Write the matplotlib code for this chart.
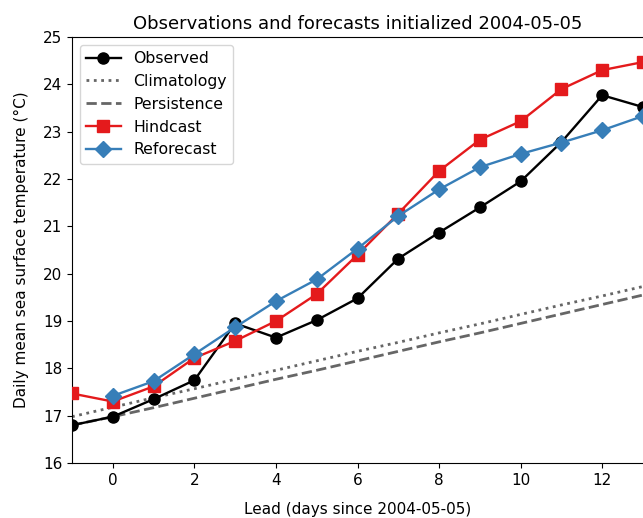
import matplotlib
matplotlib.use("Agg")
import matplotlib.pyplot as plt

lead = list(range(-1, 14))
observed = [16.80, 16.98, 17.35, 17.75, 18.95, 18.65, 19.02, 19.48, 20.32, 20.87, 21.40, 21.95, 22.78, 23.77, 23.52]
climatology = [16.98, 17.18, 17.38, 17.57, 17.77, 17.96, 18.16, 18.36, 18.55, 18.75, 18.94, 19.14, 19.34, 19.53, 19.73]
persistence = [16.80, 16.98, 17.17, 17.37, 17.57, 17.77, 17.96, 18.16, 18.36, 18.56, 18.75, 18.95, 19.15, 19.35, 19.55]
hindcast = [17.47, 17.30, 17.62, 18.22, 18.58, 19.00, 19.57, 20.40, 21.27, 22.17, 22.83, 23.22, 23.90, 24.30, 24.47]
reforecast_lead = list(range(0, 14))
reforecast = [17.42, 17.73, 18.30, 18.87, 19.42, 19.88, 20.53, 21.22, 21.78, 22.25, 22.53, 22.77, 23.03, 23.33]

fig = plt.figure(figsize=(6.43, 5.18), dpi=100)
ax = fig.add_axes([0.112, 0.106, 0.888, 0.8226])

ax.plot(lead, observed, color="black", marker="o", ms=8, lw=1.7, label="Observed", zorder=3)
ax.plot(lead, climatology, color="#666666", ls=":", lw=2, label="Climatology")
ax.plot(lead, persistence, color="#666666", ls="--", lw=2, label="Persistence")
ax.plot(lead, hindcast, color="#e41a1c", marker="s", ms=8, lw=1.7, label="Hindcast", zorder=4)
ax.plot(reforecast_lead, reforecast, color="#377eb8", marker="D", ms=8, lw=1.7, label="Reforecast", zorder=5)

ax.set_xlim(-1, 13)
ax.set_ylim(16, 25)
ax.set_xticks([0, 2, 4, 6, 8, 10, 12])
ax.set_yticks(range(16, 26))
ax.tick_params(labelsize=11)
ax.spines["right"].set_visible(False)
ax.set_xlabel("Lead (days since 2004-05-05)", fontsize=11, labelpad=10)
ax.set_ylabel("Daily mean sea surface temperature (°C)", fontsize=11, labelpad=10)
ax.set_title("Observations and forecasts initialized 2004-05-05", fontsize=13)
ax.legend(loc="upper left", fontsize=11.3, handlelength=2.2)

fig.savefig("out.png", dpi=100)
